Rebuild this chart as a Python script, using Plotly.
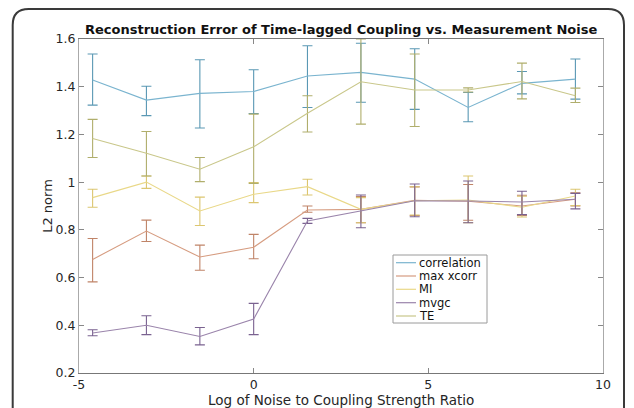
import plotly.graph_objects as go

# ---- data ----
x_vals = [-4.61, -3.07, -1.54, 0.0, 1.54, 3.07, 4.61, 6.14, 7.68, 9.21]

series_names = ["correlation", "max xcorr", "MI", "mvgc", "TE"]

corr_mean = [1.428, 1.344, 1.372, 1.380, 1.445, 1.460, 1.432, 1.313, 1.414, 1.432]
corr_up   = [1.537, 1.402, 1.513, 1.471, 1.572, 1.582, 1.559, 1.376, 1.464, 1.516]
corr_lo   = [1.323, 1.279, 1.227, 1.288, 1.313, 1.335, 1.305, 1.253, 1.370, 1.348]

xcorr_mean = [0.676, 0.795, 0.686, 0.727, 0.883, 0.886, 0.924, 0.920, 0.900, 0.928]
xcorr_up   = [0.764, 0.841, 0.736, 0.781, 0.900, 0.940, 0.980, 0.990, 0.945, 0.955]
xcorr_lo   = [0.582, 0.751, 0.631, 0.679, 0.874, 0.830, 0.860, 0.840, 0.860, 0.900]

mi_mean = [0.935, 1.000, 0.879, 0.949, 0.981, 0.886, 0.922, 0.925, 0.895, 0.942]
mi_up   = [0.970, 1.026, 0.937, 0.998, 1.012, 0.935, 0.981, 1.026, 0.941, 0.970]
mi_lo   = [0.895, 0.974, 0.818, 0.914, 0.946, 0.830, 0.862, 0.830, 0.854, 0.902]

mvgc_mean = [0.368, 0.400, 0.353, 0.426, 0.837, 0.878, 0.922, 0.921, 0.917, 0.928]
mvgc_up   = [0.381, 0.440, 0.391, 0.492, 0.848, 0.946, 0.992, 1.005, 0.962, 0.953]
mvgc_lo   = [0.356, 0.361, 0.318, 0.361, 0.827, 0.809, 0.855, 0.830, 0.864, 0.888]

te_mean = [1.183, 1.121, 1.054, 1.148, 1.289, 1.421, 1.386, 1.386, 1.422, 1.362]
te_up   = [1.263, 1.212, 1.103, 1.285, 1.362, 1.600, 1.537, 1.395, 1.499, 1.394]
te_lo   = [1.103, 1.026, 1.002, 0.995, 1.210, 1.243, 1.233, 1.378, 1.349, 1.334]

x_ticks = [-5, 0, 5, 10]
x_tick_text = ["-5", "0", "5", "10"]
y_ticks = [0.2, 0.4, 0.6, 0.8, 1.0, 1.2, 1.4, 1.6]
y_tick_text = ["0.2", "0.4", "0.6", "0.8", "1", "1.2", "1.4", "1.6"]

x_title = "Log of Noise to Coupling Strength Ratio"
y_title = "L2 norm"
chart_title = "Reconstruction Error of Time-lagged Coupling vs. Measurement Noise"

line_colors = ["#7ab4cf", "#d69c80", "#e9d888", "#9a84ab", "#c9c78a"]
bar_colors = ["#5a98b4", "#c08468", "#dcc670", "#7a6290", "#b0ae6c"]

data = [
    (corr_mean, corr_up, corr_lo),
    (xcorr_mean, xcorr_up, xcorr_lo),
    (mi_mean, mi_up, mi_lo),
    (mvgc_mean, mvgc_up, mvgc_lo),
    (te_mean, te_up, te_lo),
]

FONT = "DejaVu Sans"

fig = go.Figure()
for name, (m, up, lo), lc, bc in zip(series_names, data, line_colors, bar_colors):
    fig.add_trace(go.Scatter(
        x=x_vals, y=m, name=name, mode="lines",
        line=dict(color=lc, width=1.1),
        error_y=dict(type="data", symmetric=False,
                     array=[u - v for u, v in zip(up, m)],
                     arrayminus=[v - l for v, l in zip(m, lo)],
                     color=bc, thickness=1.1, width=5),
        showlegend=False,
    ))

# The page body has an 8px margin, so the figure is drawn 8px in from the
# window's corner.  Screen-pixel positions below are converted accordingly.
OFF = 8
W, H = 634 - OFF, 408 - OFF
# plot area on screen: x 79..603, y 39..373
L, R, T, B = 79 - OFF, 603 - OFF, 39 - OFF, 373 - OFF

def px(sx):
    return (sx - OFF - L) / (R - L)
def py(sy):
    return (B - (sy - OFF)) / (B - T)

shapes = []
# outer rounded frame
xl, xr, yt, yb = px(12.7), px(624), py(9), py(430)
rx, ry = 16 / (R - L), 16 / (B - T)
shapes.append(dict(
    type="path", xref="paper", yref="paper",
    path=(f"M {xl},{yb} L {xl},{yt-ry} Q {xl},{yt} {xl+rx},{yt} "
          f"L {xr-rx},{yt} Q {xr},{yt} {xr},{yt-ry} L {xr},{yb}"),
    line=dict(color="#3a3a3a", width=2),
))

# legend box
shapes.append(dict(type="rect", xref="paper", yref="paper",
                   x0=px(393), x1=px(487), y0=py(323), y1=py(255),
                   line=dict(color="#9a9a9a", width=1), fillcolor="white"))
annotations = []
leg_y = [262.7, 276.0, 289.3, 302.7, 316.0]
for name, lc, ly in zip(series_names, line_colors, leg_y):
    shapes.append(dict(type="line", xref="paper", yref="paper",
                       x0=px(396), x1=px(416), y0=py(ly), y1=py(ly),
                       line=dict(color=lc, width=1.2)))
    annotations.append(dict(xref="paper", yref="paper", x=px(417), y=py(ly),
                            text=name, showarrow=False, xanchor="left",
                            yanchor="middle",
                            font=dict(family=FONT, size=11.5, color="#111")))

# x-axis title placed as annotation so it fits in the bottom strip
annotations.append(dict(xref="paper", yref="paper", x=0.5, y=py(399.5),
                        text=x_title, showarrow=False, xanchor="center",
                        yanchor="middle", borderpad=0,
                        font=dict(family=FONT, size=13.5, color="#262626")))

fig.update_layout(
    width=W, height=H, autosize=False,
    margin=dict(l=L, r=W - R, t=T, b=H - B, pad=0),
    paper_bgcolor="white", plot_bgcolor="white",
    title=dict(text=f"<b>{chart_title}</b>",
               x=(85 - OFF) / W, xref="container",
               y=1 - (29.5 - OFF) / H, yref="container",
               xanchor="left", yanchor="middle",
               font=dict(family=FONT, size=13, color="#111")),
    font=dict(family=FONT, size=12, color="#262626"),
    shapes=shapes,
    annotations=annotations,
    showlegend=False,
)
fig.update_xaxes(range=[-5, 10], tickvals=x_ticks, ticktext=x_tick_text,
                 ticks="inside", ticklen=5, automargin=False,
                 tickcolor="#888", showline=True, linecolor="#777", linewidth=1,
                 mirror="ticks", showgrid=False, zeroline=False,
                 tickfont=dict(size=12.5, color="#262626"))
fig.update_yaxes(range=[0.2, 1.6], tickvals=y_ticks, ticktext=y_tick_text,
                 ticks="inside", ticklen=5, tickcolor="#888", automargin=False,
                 showline=True, linecolor="#aaa", linewidth=1,
                 mirror="ticks", showgrid=False, zeroline=False,
                 tickfont=dict(size=12.5, color="#262626"),
                 title=dict(text=y_title, font=dict(size=13, color="#262626"),
                            standoff=0))

fig.write_html("out.html")
